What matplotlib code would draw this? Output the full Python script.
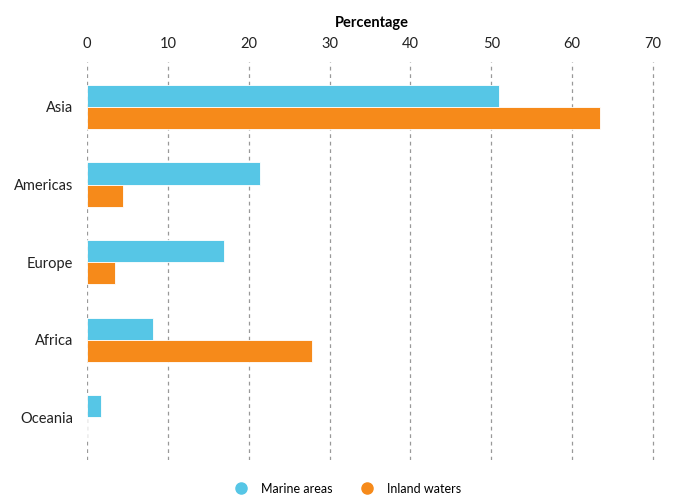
import matplotlib
matplotlib.use('Agg')
import matplotlib.pyplot as plt
import numpy as np
from matplotlib.lines import Line2D

plt.rcParams['font.family'] = ['Lato', 'DejaVu Sans']

regions = ['Asia', 'Americas', 'Europe', 'Africa', 'Oceania']
marine = [51.0, 21.4, 16.9, 8.2, 1.7]
inland = [63.4, 4.4, 3.5, 27.8, 0.05]
xticks = [0, 10, 20, 30, 40, 50, 60, 70]

blue = '#56c6e6'
orange = '#f68a1a'

fig = plt.figure(figsize=(6.76, 4.96), dpi=100)
ax = fig.add_axes([87/676, 1-460/496, 570/676, 398/496])

y = np.arange(len(regions))
h = 0.285
ax.barh(y - h/2, marine, height=h, color=blue, edgecolor='white', linewidth=0.6, zorder=3)
ax.barh(y + h/2, inland, height=h, color=orange, edgecolor='white', linewidth=0.6, zorder=3)

ax.set_xlim(0, 70 * 570 / 566)
ax.set_ylim(4.55, -0.58)
ax.set_xticks(xticks)
ax.set_yticks(y)
ax.set_yticklabels(regions, fontsize=10.5, color='#222222')
ax.xaxis.tick_top()
ax.xaxis.set_label_position('top')
ax.tick_params(axis='x', length=0, labelsize=10.5, pad=8, colors='#222222')
ax.tick_params(axis='y', length=0, pad=10)
ax.set_xlabel('Percentage', fontsize=10.5, fontweight='bold', labelpad=7)
for s in ax.spines.values():
    s.set_visible(False)
ax.grid(axis='x', linestyle=(0, (3, 3)), color='#999999', linewidth=0.9, zorder=0)

handles = [Line2D([], [], marker='o', linestyle='', markersize=8, color=blue),
           Line2D([], [], marker='o', linestyle='', markersize=8, color=orange)]
fig.legend(handles, ['Marine areas', 'Inland waters'], loc='lower center',
           bbox_to_anchor=(0.51, -0.02), ncol=2, frameon=False, fontsize=9,
           handletextpad=0.6, columnspacing=1.8)

fig.savefig('out.png', dpi=100)
